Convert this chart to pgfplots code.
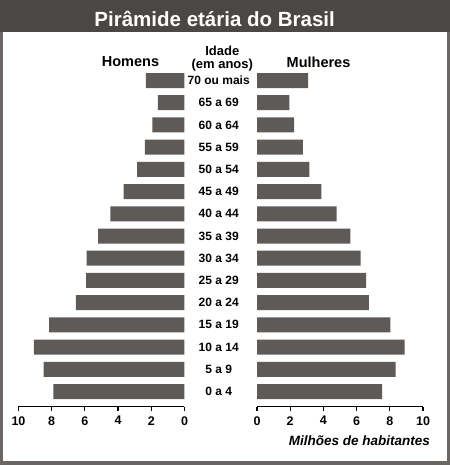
\documentclass[border=0pt]{standalone}
\usepackage{pgfplots}
\pgfplotsset{compat=1.18}
\usepackage{fontspec}
\setmainfont{Liberation Sans}
\definecolor{barcol}{HTML}{5E5A58}
\definecolor{titlebar}{HTML}{4B4745}
\definecolor{frame}{HTML}{6A6664}

% males (Homens), ages 0-4 ... 70+
\pgfplotstableread{
y val
0 7.90
1 8.48
2 9.07
3 8.16
4 6.55
5 5.92
6 5.89
7 5.21
8 4.47
9 3.66
10 2.86
11 2.38
12 1.94
13 1.60
14 2.32
}\homens
% females (Mulheres)
\pgfplotstableread{
y val
0 7.54
1 8.35
2 8.89
3 8.03
4 6.74
5 6.58
6 6.24
7 5.63
8 4.79
9 3.88
10 3.16
11 2.76
12 2.23
13 1.95
14 3.08
}\mulheres

\pgfplotsset{
  pyr/.style={
    scale only axis,
    width=166bp, height=339.5bp,
    xmin=0, xmax=10, ymin=-0.684, ymax=14.6,
    xtick={0,2,4,6,8,10},
    axis x line=bottom,
    x axis line style={-, line width=1.2bp, black},
    xtick style={line width=1.2bp, black},
    tick align=outside, major tick length=4bp,
    /pgf/number format/assume math mode=true,
    ticklabel style={font=\fontsize{12.5bp}{13bp}\selectfont\bfseries},
    xticklabel style={inner sep=1bp, yshift=-4.5bp},
    xbar, bar width=15bp, bar shift=0pt,
  },
}

\begin{document}
\begin{tikzpicture}
\useasboundingbox (0bp,0bp) rectangle (450bp,465bp);
\fill[frame] (0bp,0bp) rectangle (450bp,465bp);
\fill[white] (3bp,3.5bp) rectangle (447bp,433bp);
\fill[titlebar] (0bp,432.5bp) rectangle (450bp,465bp);
\node[text=white, font=\fontsize{20.5bp}{22bp}\selectfont\bfseries] at (214.7bp,446.5bp) {Pirâmide etária do Brasil};

\begin{axis}[pyr, at={(18.5bp,58.3bp)}, anchor=south west,
  x dir=reverse, axis y line=none]
\addplot[fill=barcol, draw=none] table[x=val, y=y] {\homens};
\end{axis}

\begin{axis}[pyr, at={(257bp,58.3bp)}, anchor=south west,
  axis y line=left, y axis line style={draw=none}, ytick style={draw=none},
  ytick={0,...,14},
  yticklabels={0 a 4,5 a 9,10 a 14,15 a 19,20 a 24,25 a 29,30 a 34,35 a 39,40 a 44,45 a 49,50 a 54,55 a 59,60 a 64,65 a 69,70 ou mais},
  yticklabel style={anchor=center, xshift=-36.25bp, font=\fontsize{12bp}{13bp}\selectfont\bfseries}]
\addplot[fill=barcol, draw=none] table[x=val, y=y] {\mulheres};
\end{axis}

\node[font=\fontsize{14.5bp}{16bp}\selectfont\bfseries] at (130.5bp,403bp) {Homens};
\node[font=\fontsize{14.5bp}{16bp}\selectfont\bfseries] at (318.5bp,403bp) {Mulheres};
\node[font=\fontsize{13bp}{14bp}\selectfont\bfseries] at (222.3bp,414.5bp) {Idade};
\node[font=\fontsize{13bp}{14bp}\selectfont\bfseries] at (222.3bp,400bp) {(em anos)};
\node[anchor=base east, font=\fontsize{13.5bp}{15bp}\selectfont\bfseries\itshape] at (433.5bp,20bp) {Milhões de habitantes};
\end{tikzpicture}
\end{document}
